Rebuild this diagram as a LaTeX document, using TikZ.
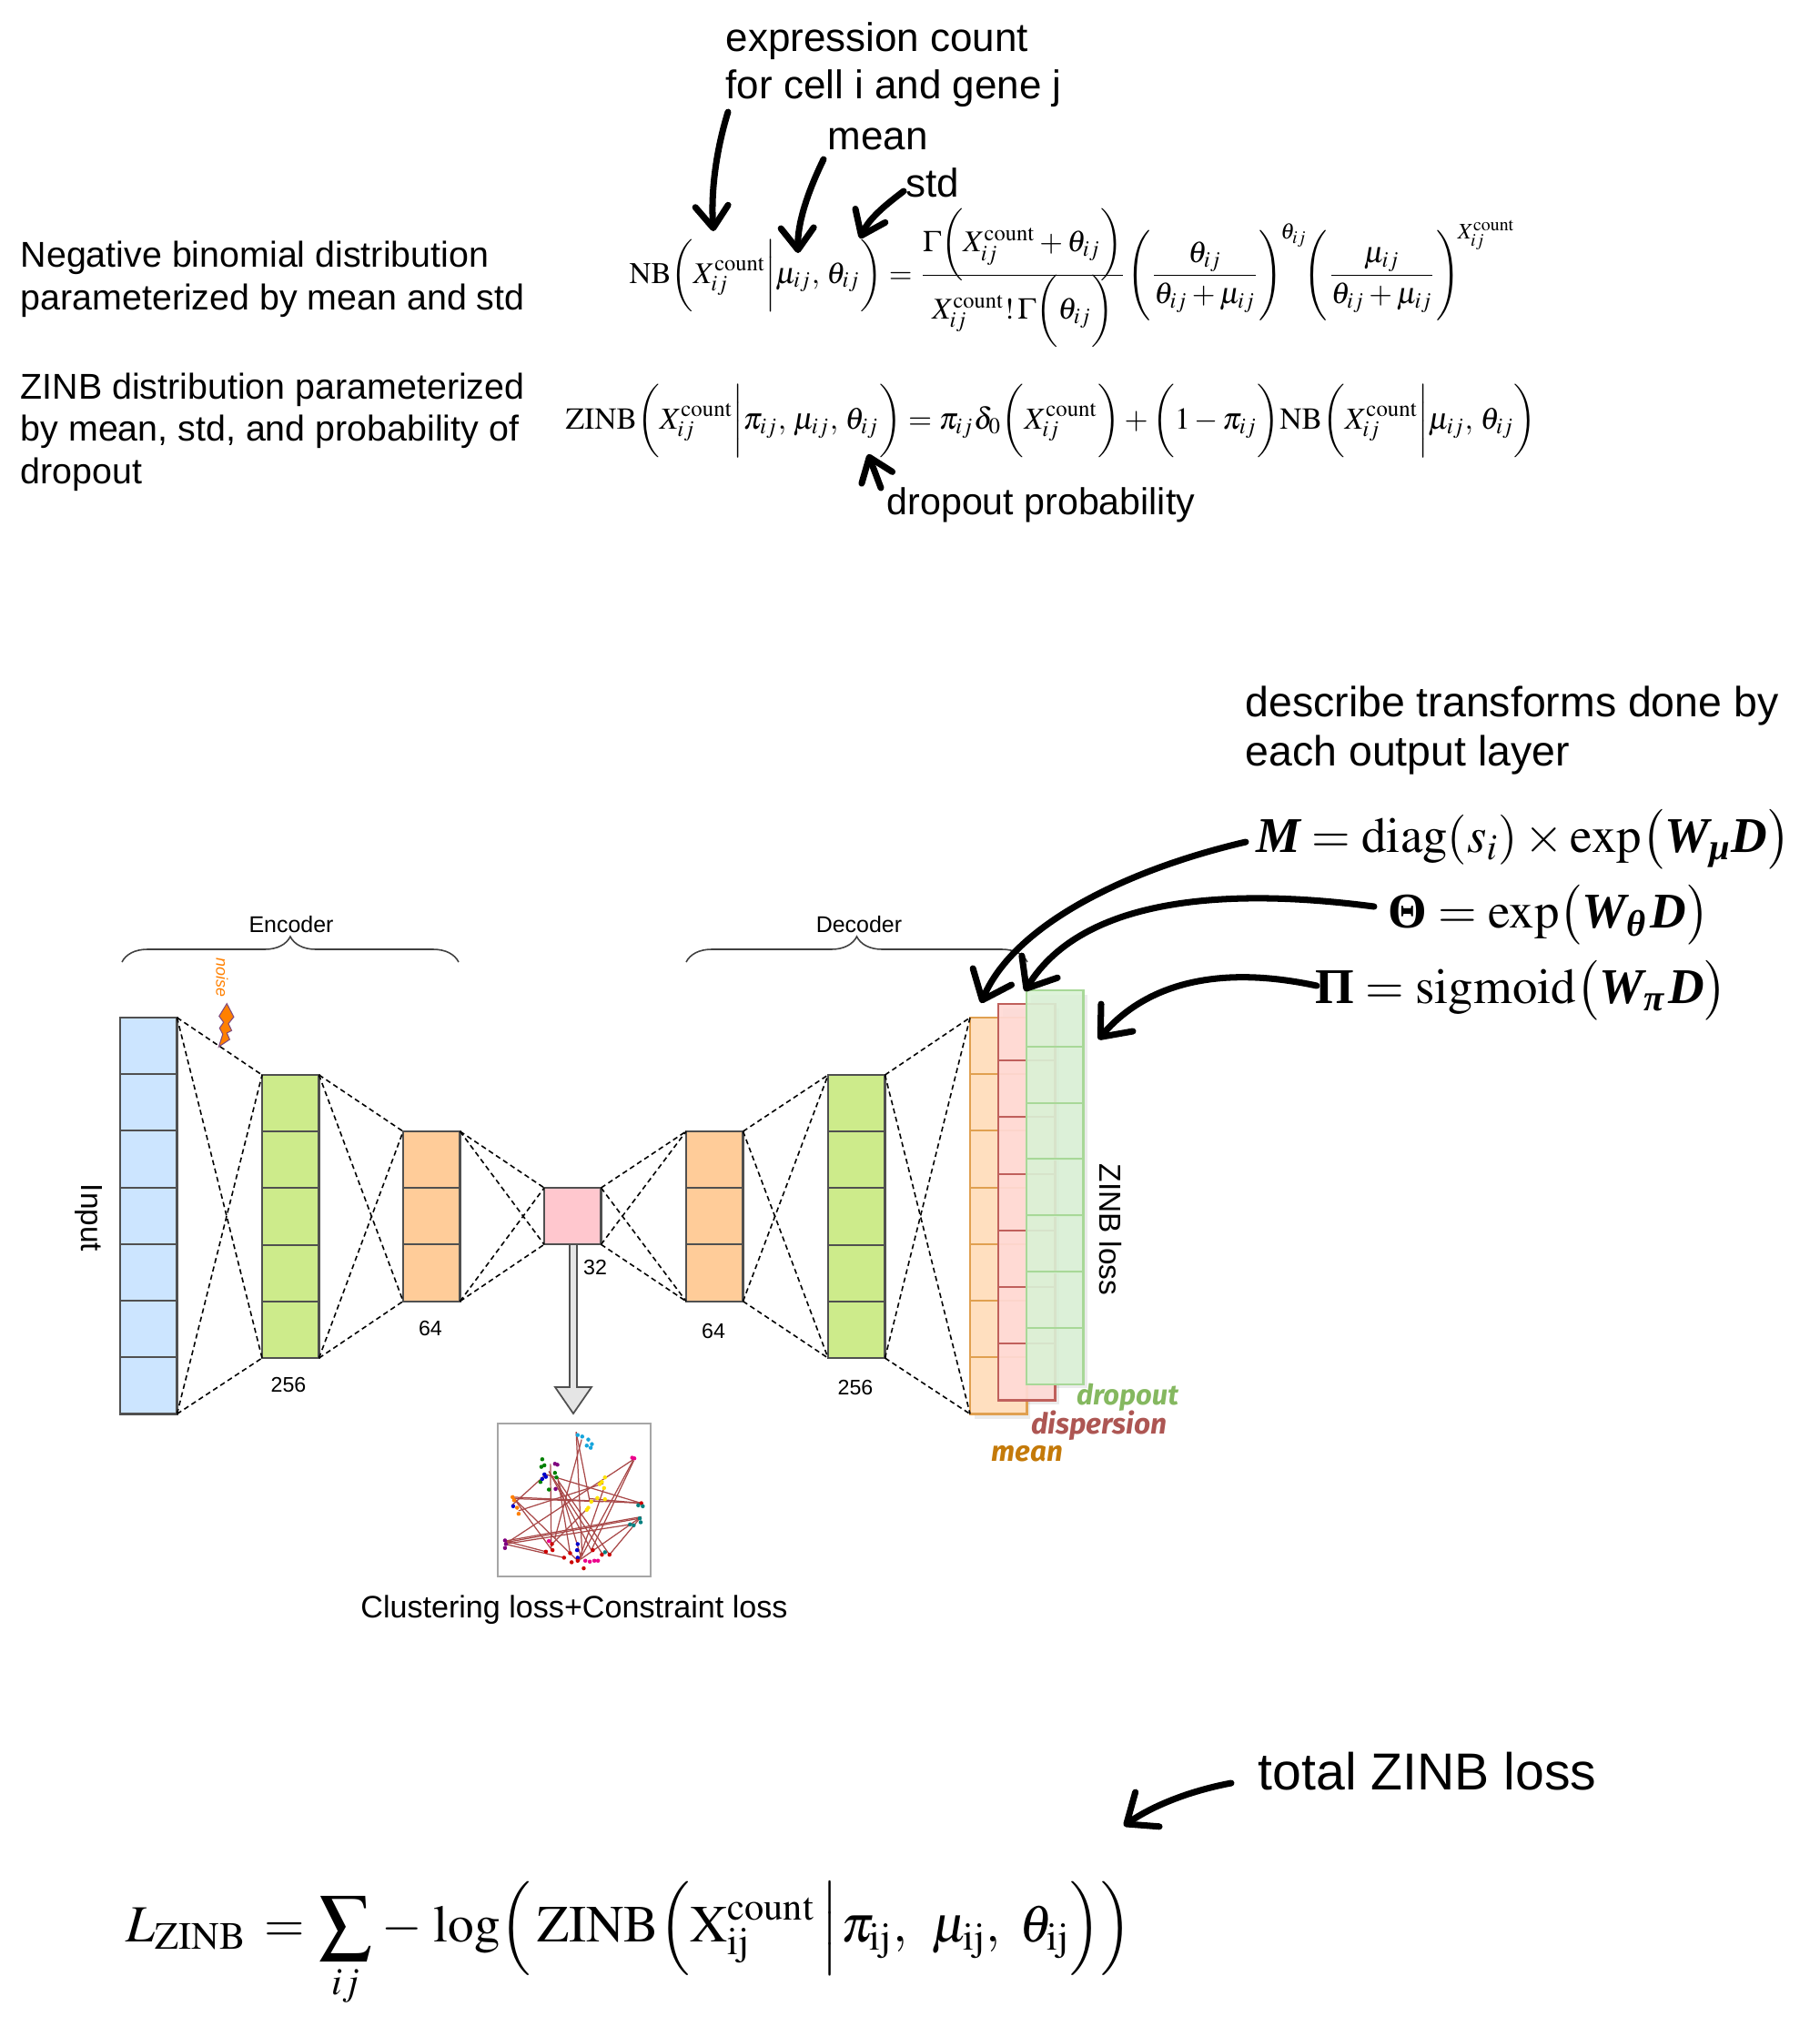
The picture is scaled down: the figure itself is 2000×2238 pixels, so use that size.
\documentclass[tikz,border=0pt]{standalone}
\usepackage{amsmath}
\usepackage{mathptmx}
\usepackage[no-math]{fontspec}
\setmainfont{Liberation Sans}
\newfontfamily\handfont{Fira Sans}
\newfontfamily\serifbf{Liberation Serif}
\usetikzlibrary{arrows.meta,decorations.pathreplacing}
\definecolor{InputBlue}{HTML}{CCE5FF}
\definecolor{EncGreen}{HTML}{CDEB8B}
\definecolor{EncOrange}{HTML}{FFCC99}
\definecolor{MidPink}{HTML}{FFC7CE}
\definecolor{CellLine}{HTML}{505050}
\definecolor{MeanFill}{HTML}{FFDFBF}
\definecolor{MeanLine}{HTML}{E0A050}
\definecolor{MeanText}{HTML}{C47A0A}
\definecolor{DispFill}{HTML}{FFDAD6}
\definecolor{DispLine}{HTML}{C0605C}
\definecolor{DropFill}{HTML}{DAF2D6}
\definecolor{DropLine}{HTML}{A8D898}
\definecolor{DropText}{HTML}{85B860}
\definecolor{NoiseOrange}{HTML}{FF8000}
\definecolor{EdgeRed}{HTML}{A84848}
\tikzset{
	cell/.style={draw=CellLine, line width=0.6pt, inner sep=0pt, outer sep=0pt, minimum width=0.625cm, minimum height=0.622cm, anchor=north west},
	link/.style={dash pattern=on 1.6pt off 1.1pt, line width=0.45pt},
	brace/.style={draw=black!75, line width=0.45pt, decorate, decoration={brace, amplitude=0.28cm}},
	handarrow/.style={line width=2pt, line cap=round, -{Straight Barb[length=2.4mm,width=3.6mm,round]}},
	bigarrow/.style={handarrow, -{Straight Barb[length=2.8mm,width=4.6mm,round]}},
	note/.style={anchor=base west, inner sep=0pt, font=\fontsize{12.5}{15}\selectfont},
	leftnote/.style={note, font=\fontsize{11.2}{14}\selectfont},
	small/.style={inner sep=0pt, font=\fontsize{6.6}{8}\selectfont},
	side/.style={inner sep=0pt, rotate=-90, font=\fontsize{9.5}{11}\selectfont},
	formula/.style={anchor=base west, inner sep=0pt},
	dot/.style={circle, inner sep=0pt, minimum size=0.045cm}
}
\newcommand{\Xcount}{X_{ij}^{\mathrm{count}}}
\newcommand{\bfit}[1]{\text{\serifbf\bfseries\itshape #1}}
\newcommand{\bfup}[1]{\text{\serifbf\bfseries #1}}
\begin{document}
\begin{tikzpicture}[x=0.01cm, y=-0.01cm]
	\useasboundingbox (0,0) rectangle (2000,2238);

	% Top notes
	\node[note] (notecount) at (797,56) {expression count};
	\node[note] (notecell) at (797,108) {for cell i and gene j};
	\node[note] (notemean) at (909,164) {mean};
	\node[note] (notestd) at (995,216) {std};
	\node[note, font=\fontsize{11.7}{14}\selectfont] (notedrop) at (974,565) {dropout probability};
	\node[leftnote] (notenb1) at (22,293) {Negative binomial distribution};
	\node[leftnote] (notenb2) at (22,340) {parameterized by mean and std};
	\node[leftnote] (notezinb1) at (22,438) {ZINB distribution parameterized};
	\node[leftnote] (notezinb2) at (22,484) {by mean, std, and probability of};
	\node[leftnote] (notezinb3) at (22,531) {dropout};

	% Formulas
	\node[formula, font=\fontsize{9.4}{11}\selectfont] (nbeq) at (691,311) {$\displaystyle \mathrm{NB}\biggl(\Xcount\biggr|\mu_{ij},\,\theta_{ij}\biggr)=\frac{\smash[b]{\Gamma\biggl(\Xcount+\theta_{ij}\biggr)}\rule[-0.65em]{0pt}{0pt}}{\smash[t]{\Xcount!\,\Gamma\biggl(\theta_{ij}\biggr)}\rule{0pt}{1.3em}}\Biggl(\frac{\theta_{ij}}{\theta_{ij}+\mu_{ij}}\Biggr)^{\!\theta_{ij}}\mkern-3mu\Biggl(\frac{\mu_{ij}}{\theta_{ij}+\mu_{ij}}\Biggr)^{\!\Xcount}$};
	\node[formula, font=\fontsize{9.55}{11}\selectfont] (zinbeq) at (621,471) {$\displaystyle \mathrm{ZINB}\biggl(\Xcount\biggr|\pi_{ij},\,\mu_{ij},\,\theta_{ij}\biggr)=\pi_{ij}\delta_0\biggl(\Xcount\biggr)+\biggl(1-\pi_{ij}\biggr)\mathrm{NB}\biggl(\Xcount\biggr|\mu_{ij},\,\theta_{ij}\biggr)$};
	\node[formula, font=\fontsize{15.6}{18}\selectfont] (meq) at (1380,936) {$\bfit{M}=\operatorname{diag}(s_i)\times\exp\bigl(\bfit{W}_{\bfit{μ}}\bfit{D}\bigr)$};
	\node[formula, font=\fontsize{15.6}{18}\selectfont] (teq) at (1525,1019) {$\bfup{Θ}=\exp\bigl(\bfit{W}_{\bfit{θ}}\mkern1mu\bfit{D}\bigr)$};
	\node[formula, font=\fontsize{15.6}{18}\selectfont] (peq) at (1445,1102) {$\bfup{Π}=\operatorname{sigmoid}\bigl(\bfit{W}_{\bfit{π}}\mkern1mu\bfit{D}\bigr)$};
	\node[formula, font=\fontsize{16.3}{19}\selectfont] (leq) at (138,2133) {$\displaystyle L_{\mathrm{ZINB}}\mkern2mu=\mkern1mu\sum_{ij}\mkern1mu-\mkern2mu\log\Bigl(\mkern2mu\mathrm{ZINB}\Bigl(\mathrm{X}_{\mathrm{ij}}^{\mathrm{count}}\,\Bigr|\mkern1mu\pi_{\mathrm{ij}},\mkern6.5mu\mu_{\mathrm{ij}},\mkern4.5mu\theta_{\mathrm{ij}}\Bigr)\Bigr)$};

	% Notes right and bottom
	\node[note, font=\fontsize{13.2}{16}\selectfont] (notetrans1) at (1368,787) {describe transforms done by};
	\node[note, font=\fontsize{13.2}{16}\selectfont] (notetrans2) at (1368,841) {each output layer};
	\node[note, font=\fontsize{16.25}{19}\selectfont] (notetotal) at (1382,1966) {total ZINB loss};

	% Layers
	\fill[black, opacity=0.08] (1071,1123) rectangle (1132,1559);
	\fill[black, opacity=0.08] (1102,1108) rectangle (1164,1543);
	\fill[black, opacity=0.08] (1133,1093) rectangle (1195,1525);
	\foreach \name/\x/\y/\last/\col in {input/132/1118/6/InputBlue, enca/288/1181/4/EncGreen, encb/443/1243/2/EncOrange, mid/598/1305/0/MidPink, decb/754/1243/2/EncOrange, deca/910/1181/4/EncGreen}
		\foreach \i in {0,...,\last}
			\node[cell, fill=\col] (\name\i) at (\x,{\y+62.2*\i}) {};
	\foreach \i in {0,...,6}
		\node[cell, fill=MeanFill, draw=MeanLine] (mean\i) at (1066,{1118+62.2*\i}) {};
	\foreach \i in {0,...,6}
		\node[cell, fill=DispFill, fill opacity=0.92, draw=DispLine] (disp\i) at (1097,{1103+62.2*\i}) {};
	\foreach \i in {0,...,6}
		\node[cell, fill=DropFill, fill opacity=0.9, draw=DropLine] (drop\i) at (1128,{1088+61.8*\i}) {};

	% Links
	\foreach \a/\na/\b/\nb in {input/6/enca/4, enca/4/encb/2, encb/2/mid/0, mid/0/decb/2, decb/2/deca/4, deca/4/mean/6} {
		\draw[link] (\a0.north east) -- (\b0.north west);
		\draw[link] (\a0.north east) -- (\b\nb.south west);
		\draw[link] (\a\na.south east) -- (\b0.north west);
		\draw[link] (\a\na.south east) -- (\b\nb.south west);
	}

	% Braces
	\coordinate (encl) at (134,1057);
	\coordinate (encr) at (504,1057);
	\coordinate (decl) at (754,1057);
	\coordinate (decr) at (1129,1057);
	\draw[brace] (encl) -- (encr);
	\draw[brace] (decl) -- (decr);

	% Labels
	\node[small, font=\fontsize{7.1}{8}\selectfont] (enclabel) at (320,1016) {Encoder};
	\node[small, font=\fontsize{7.1}{8}\selectfont] (declabel) at (944,1016) {Decoder};
	\node[small] (n256a) at (317,1521) {256};
	\node[small] (n64a) at (473,1459) {64};
	\node[small] (n32) at (654,1392) {32};
	\node[small] (n64b) at (784,1462) {64};
	\node[small] (n256b) at (940,1524) {256};
	\node[side] (inputlabel) at (98,1338) {Input};
	\node[side] (zinblabel) at (1220,1351) {ZINB loss};
	\node[inner sep=0pt, rotate=-90, text=NoiseOrange, font=\fontsize{5.1}{6}\selectfont\itshape] (noiselabel) at (244,1074) {noise};
	\node[inner sep=0pt, text=DropText, font=\handfont\itshape\bfseries\fontsize{8.8}{11}\selectfont] (droplabel) at (1239,1535) {dropout};
	\node[inner sep=0pt, text=DispLine!90!black, font=\handfont\itshape\bfseries\fontsize{9}{11}\selectfont] (displabel) at (1208,1566) {dispersion};
	\node[inner sep=0pt, text=MeanText, font=\handfont\itshape\bfseries\fontsize{8.9}{11}\selectfont] (meanlabel) at (1129,1597) {mean};
	\node[inner sep=0pt, font=\fontsize{9.7}{12}\selectfont] (clusterlabel) at (631,1769) {Clustering loss+Constraint loss};

	% Noise bolt
	\filldraw[fill=NoiseOrange, draw=violet!40!gray, line width=0.3pt] (249.3,1102.6) -- (256.9,1117.2) -- (251,1124.7) -- (254.6,1132.2) -- (249.3,1135) -- (252.4,1142) -- (240.4,1150) -- (244.8,1136.2) -- (241.3,1129.5) -- (245.7,1123.1) -- (240.8,1116.4) -- cycle;

	% Arrow to the graph
	\filldraw[fill=black!10, draw=CellLine, line width=0.5pt] (626,1367) -- (634,1367) -- (634,1524) -- (650,1524) -- (630,1553) -- (610,1524) -- (626,1524) -- cycle;

	% Graph
	\draw[black!35, line width=0.7pt] (547,1564) rectangle (715,1732);
	\begin{scope}[shift={(520,1540)}, x=0.00333cm, y=-0.00333cm]
		\foreach \xa/\ya/\xb/\yb in {340/100/360/510, 340/100/385/330, 358/125/270/450, 255/205/258/490, 530/190/105/470, 530/190/350/525, 530/195/390/490, 130/315/555/335, 135/320/340/520, 135/320/260/490, 130/340/240/240, 105/460/555/380, 105/465/550/385, 105/470/520/405, 240/240/555/335, 250/230/425/500, 250/230/390/490, 280/260/450/505, 280/260/355/510, 280/255/320/500, 450/505/550/385, 105/460/240/495, 105/470/300/515, 430/290/350/520, 385/320/555/335, 380/350/260/470, 555/380/355/520, 430/270/150/360, 135/320/430/330}
			\draw[EdgeRed, line width=0.35pt] (\xa,\ya) -- (\xb,\yb);
		\foreach \px/\py in {345/110,360/115,380/125,375/145,392/140,388/152}
			\node[dot, fill=cyan!80!teal] at (\px,\py) {};
		\foreach \px/\py in {228/190,225/215,235/210,222/265,250/290,270/235,275/250}
			\node[dot, fill=green!50!black] at (\px,\py) {};
		\foreach \px/\py in {235/240,240/248,228/255,132/345,345/470,343/490,345/515}
			\node[dot, fill=blue!80!black] at (\px,\py) {};
		\foreach \px/\py in {105/458,108/470,105/483,270/205,278/208,272/288}
			\node[dot, fill=violet] at (\px,\py) {};
		\foreach \px/\py in {435/250,425/265,418/272,432/285,380/350,375/357,410/318,435/322,390/330}
			\node[dot, fill=yellow!85!orange] at (\px,\py) {};
		\foreach \px/\py in {130/315,135/325,150/370,145/350}
			\node[dot, fill=orange] at (\px,\py) {};
		\foreach \px/\py in {240/495,260/470,262/490,300/515,320/500,325/530,345/525,365/550,395/490,425/505,450/505,555/335}
			\node[dot, fill=red!80!black] at (\px,\py) {};
		\foreach \px/\py in {525/185,532/187,370/525,385/528,400/525,412/525,250/460}
			\node[dot, fill=magenta] at (\px,\py) {};
		\foreach \px/\py in {545/342,560/345,550/385,553/398,518/405,530/408,435/497}
			\node[dot, fill=teal] at (\px,\py) {};
	\end{scope}

	% Hand arrows
	\coordinate (countfrom) at (800,123);
	\coordinate (countto) at (784,254);
	\coordinate (meanfrom) at (905,175);
	\coordinate (meanto) at (877,278);
	\coordinate (stdfrom) at (993,210);
	\coordinate (stdto) at (945,262);
	\coordinate (dropfrom) at (968,536);
	\coordinate (dropto) at (954,499);
	\coordinate (mfrom) at (1369,925);
	\coordinate (mto) at (1078,1102);
	\coordinate (tfrom) at (1510,996);
	\coordinate (tto) at (1126,1089);
	\coordinate (pfrom) at (1447,1083);
	\coordinate (pto) at (1207,1142);
	\coordinate (totalfrom) at (1353,1959);
	\coordinate (totalto) at (1235,2006);
	\draw[handarrow] (countfrom) .. controls (787,165) and (781,210) .. (countto);
	\draw[handarrow] (meanfrom) .. controls (888,210) and (876,245) .. (meanto);
	\draw[handarrow] (stdfrom) .. controls (972,226) and (955,240) .. (stdto);
	\draw[handarrow] (dropfrom) -- (dropto);
	\draw[bigarrow] (mfrom) .. controls (1240,955) and (1115,1015) .. (mto);
	\draw[bigarrow] (tfrom) .. controls (1350,975) and (1190,985) .. (tto);
	\draw[bigarrow] (pfrom) .. controls (1340,1060) and (1260,1080) .. (pto);
	\draw[bigarrow] (totalfrom) .. controls (1305,1968) and (1265,1985) .. (totalto);
\end{tikzpicture}
\end{document}
